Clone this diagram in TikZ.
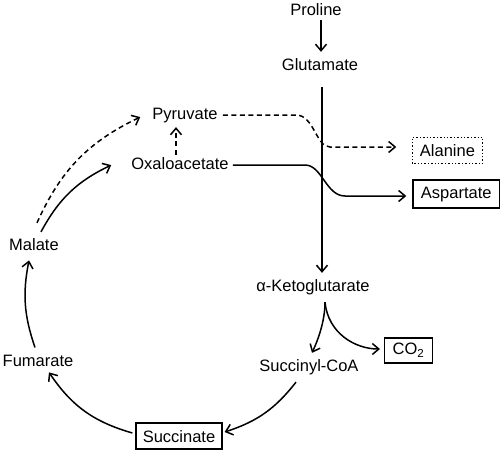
\documentclass[tikz,border=0pt]{standalone}
\usepackage{fontspec}
\setmainfont{Liberation Sans}
\usetikzlibrary{arrows.meta}
\begin{document}
\begin{tikzpicture}[x=1pt,y=1pt,
  txt/.style={font=\fontsize{16.5pt}{19pt}\selectfont},
  lbl/.style={txt, inner sep=0pt, anchor=base},
  boxed/.style={txt, draw, line width=1.4pt, text height=12pt},
  arr/.style={line width=1.5pt, -{Straight Barb[length=6.5pt,width=11pt]}},
  dsh/.style={dash pattern=on 5pt off 3.5pt},
  dots/.style={dash pattern=on 1.3pt off 2.1pt}]
\useasboundingbox (0,0) rectangle (501,451);
% text nodes
\node[lbl] (pro) at (316,435) {Proline};
\node[lbl] (glu) at (320,381) {Glutamate};
\node[lbl] (akg) at (313,160) {α-Ketoglutarate};
\node[lbl] (suc) at (309,80) {Succinyl-CoA};
\node[lbl] (fum) at (38,85) {Fumarate};
\node[lbl] (mal) at (34,201) {Malate};
\node[lbl] (pyr) at (185,331) {Pyruvate};
\node[lbl] (oxa) at (180,281.5) {Oxaloacetate};
% boxes
\node[boxed, text depth=0pt, inner xsep=6.7pt, inner ysep=7pt] (sct) at (179,15) {Succinate};
\node[boxed, text depth=4pt, inner xsep=8pt, inner ysep=4.5pt] (co2) at (408.5,100.5) {CO\textsubscript{2}};
\node[boxed, draw=none, text depth=0pt, inner xsep=7pt, inner ysep=6.5pt] (ala) at (447.5,300.5) {Alanine};
\draw[dots, line width=1.3pt] (ala.south west) rectangle (ala.north east);
\node[boxed, text depth=3.5pt, inner xsep=8pt, inner ysep=6.25pt] (asp) at (456.3,257) {Aspartate};
% connectors
\draw[arr] ([xshift=5pt,yshift=-4pt]pro.south) -- ([xshift=1pt,yshift=6pt]glu.north);
\draw[arr] ([xshift=2pt,yshift=-17pt]glu.south) -- ([xshift=9pt,yshift=6pt]akg.north);
\draw[arr,dsh] ([xshift=-4pt,yshift=2.5pt]oxa.north) -- ([xshift=-9pt,yshift=-3.5pt]pyr.south);
\draw[arr,dsh] ([xshift=5pt,yshift=1pt]pyr.east) -- (296,336) .. controls (314,336) and (316,304) .. (330,304) -- ([xshift=-16pt,yshift=3.5pt]ala.west);
\draw[arr] ([xshift=4pt,yshift=-1.5pt]oxa.east) -- (305,286) .. controls (322,286) and (326,255) .. (345,255) -- ([xshift=-6pt,yshift=-2pt]asp.west);
\draw[arr] ([xshift=12pt,yshift=-7.5pt]akg.south) .. controls +(0,-19) and +(6,13) .. ([xshift=3pt,yshift=6pt]suc.north);
\draw[arr] ([xshift=12pt,yshift=-7.5pt]akg.south) .. controls +(3,-31) and +(-25,0) .. ([xshift=-4pt,yshift=1.5pt]co2.west);
\draw[arr] ([xshift=-13pt,yshift=-7.5pt]suc.south) to[bend left=17] ([xshift=2pt,yshift=4pt]sct.east);
\draw[arr] ([xshift=-3pt,yshift=3pt]sct.west) to[bend left=20] ([xshift=11pt,yshift=-6pt]fum.south);
\draw[arr] ([xshift=-3pt,yshift=7pt]fum.north) to[bend left=15] ([xshift=-5pt,yshift=-10pt]mal.south);
\draw[arr] ([xshift=7pt,yshift=6pt]mal.north) to[bend left=18] ([xshift=-20pt,yshift=-1.5pt]oxa.west);
\draw[arr,dsh] ([xshift=3pt,yshift=15pt]mal.north) to[bend left=20] ([xshift=-12pt,yshift=-1pt]pyr.west);
\end{tikzpicture}
\end{document}
